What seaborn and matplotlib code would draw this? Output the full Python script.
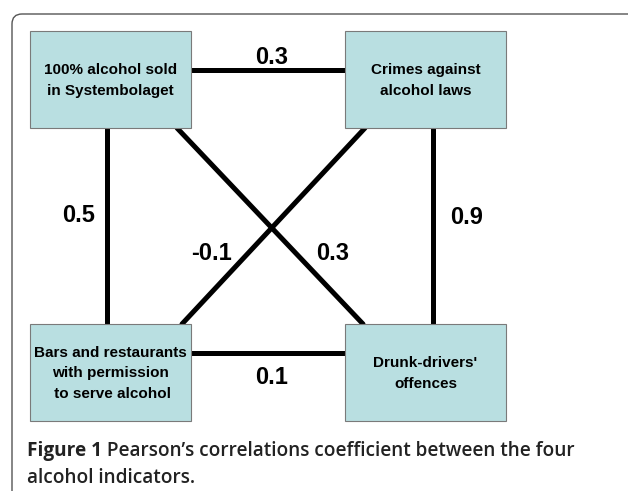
import matplotlib
matplotlib.use("Agg")
import matplotlib.pyplot as plt
from matplotlib.patches import FancyBboxPatch, Rectangle
import pandas as pd
import seaborn as sns

# indicators (nodes) and the correlations between them (edges)
indicators = ["100% alcohol sold\nin Systembolaget",
              "Crimes against\nalcohol laws",
              "Bars and restaurants\nwith permission\n to serve alcohol",
              "Drunk-drivers'\noffences"]
edge_from = [0, 0, 1, 2, 0, 1]
edge_to = [1, 2, 3, 3, 3, 2]
edge_r = ["0.3", "0.5", "0.9", "0.1", "0.3", "-0.1"]
caption_bold = "Figure 1"
caption_line1 = " Pearson\u2019s correlations coefficient between the four"
caption_line2 = "alcohol indicators."

# layout in pixels (figure is 628 x 491)
box_x = [30, 345, 30, 345]
box_y = [31, 31, 324, 324]
box_w, box_h = 161, 97
# attachment points of each edge on the boxes
anchors = [((191, 70), (345, 70)),
           ((107, 128), (107, 324)),
           ((433, 128), (433, 324)),
           ((191, 353), (345, 353)),
           ((177, 128), (363, 324)),
           ((365, 128), (182, 324))]
label_pos = [(272, 57), (79, 215), (467, 217), (272, 377), (333, 253), (212, 253)]

sns.set_style("white")
fig = plt.figure(figsize=(6.28, 4.91), dpi=100)
ax = fig.add_axes([0, 0, 1, 1])

rows = []
for i, ((x0, y0), (x1, y1)) in enumerate(anchors):
    rows.append({"edge": i, "x": x0, "y": y0})
    rows.append({"edge": i, "x": x1, "y": y1})
edges = pd.DataFrame(rows)
sns.lineplot(data=edges, x="x", y="y", units="edge", estimator=None, sort=False,
             color="black", lw=3.6, ax=ax, legend=False, zorder=1)
ax.set_xlim(0, 628)
ax.set_ylim(491, 0)
ax.axis("off")

# outer frame
ax.add_patch(FancyBboxPatch((12, 14), 660, 520, boxstyle="round,pad=0,rounding_size=10",
                            fc="white", ec="#555555", lw=1.0, zorder=0))

for r, (lx, ly) in zip(edge_r, label_pos):
    ax.text(lx, ly, r, ha="center", va="center", fontsize=17, fontweight="bold",
            family="Liberation Sans", color="black")

for name, bx, by in zip(indicators, box_x, box_y):
    ax.add_patch(Rectangle((bx, by), box_w, box_h, fc="#b9dfe1", ec="#7a7a7a", lw=0.8, zorder=2))
    ax.text(bx + box_w / 2, by + box_h / 2 + 1, name, ha="center", va="center", fontsize=11,
            fontweight="bold", linespacing=1.6, color="black", zorder=3,
            family="Liberation Sans")

t1 = ax.text(27, 456, caption_bold, ha="left", va="baseline", fontsize=13.7,
             fontweight="bold", family="Open Sans", color="#222222")
ax.annotate(caption_line1, xy=(1, 0), xycoords=t1, xytext=(0, 0), textcoords="offset points",
            ha="left", va="bottom", fontsize=13.7, fontweight="semibold", family="Open Sans",
            color="#222222")
ax.text(27, 483, caption_line2, ha="left", va="baseline", fontsize=13.7,
        fontweight="semibold", family="Open Sans", color="#222222")

fig.savefig("out.png", dpi=100)
